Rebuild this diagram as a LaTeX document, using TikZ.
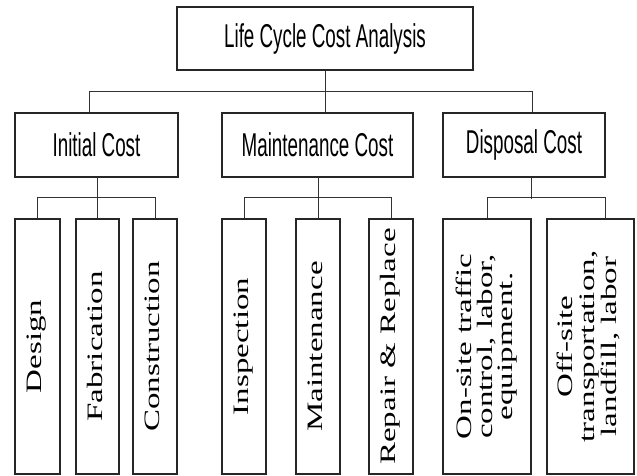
\documentclass[tikz,border=0pt]{standalone}
\usepackage{fontspec}
\setmainfont{Liberation Serif}
\setsansfont{Liberation Sans}
\usetikzlibrary{positioning}

% condensed sans heading text, stretched serif column text
\newcommand{\htext}[1]{\scalebox{0.57}[1]{\sffamily\fontsize{33}{36}\selectfont #1}}
\newcommand{\vtext}[2][19]{\rotatebox{90}{\scalebox{1.5}[1]{\fontsize{22}{#1}\selectfont\begin{tabular}{@{}c@{}}#2\end{tabular}}}}

\tikzset{
  box/.style={rectangle, draw=black!85, line width=1.2pt, inner sep=0pt},
  headbox/.style={box, minimum width=#1, minimum height=64pt},
  leafbox/.style={box, minimum width=#1, minimum height=255pt},
  link/.style={draw=black!80, line width=1pt}
}

\begin{document}
\begin{tikzpicture}[x=1pt, y=-1pt]
      \useasboundingbox[fill=white] (0,0) rectangle (637,475);

      % Nodes
      \node (lcca) at (325,38.5) [box, minimum width=296pt, minimum height=63pt] {\htext{Life Cycle Cost Analysis}};

      \node (initial) at (96.5,145) [headbox=163pt] {\htext{Initial Cost}};
      \node (maint) at (317.5,145) [headbox=191pt] {\htext{Maintenance Cost}};
      \node (disposal) at (524,145) [headbox=162pt] {\htext{Disposal Cost}};

      \node (design) at (37.5,346.5) [leafbox=45pt] {\vtext{Design}};
      \node (fabric) at (97.5,346.5) [leafbox=43pt] {\vtext{Fabrication}};
      \node (constr) at (155,346.5) [leafbox=44pt] {\vtext{Construction}};

      \node (inspect) at (244,346.5) [leafbox=44pt] {\vtext{Inspection}};
      \node (mainten) at (318,346.5) [leafbox=44pt] {\vtext{Maintenance}};
      \node (repair) at (391,346.5) [leafbox=44pt] {\vtext{Repair \& Replace}};

      \node (onsite) at (487,346.5) [leafbox=88pt] {\vtext[18]{On-site traffic\\control, labor,\\equipment.}};
      \node (offsite) at (590.5,346.5) [leafbox=87pt] {\vtext[22]{Off-site\\transportation,\\landfill, labor}};

      \coordinate (busL) at (89,91);
      \coordinate (busR) at (532,91);

      % Edges
      \draw[link] (lcca.south) -- (lcca.south |- maint.north);
      \draw[link] (busL) -- (busR);
      \draw[link] (busL) -- (busL |- initial.north);
      \draw[link] (busR) -- (busR |- disposal.north);

      \draw[link] (fabric.north |- initial.south) -- (fabric.north);
      \draw[link] (design.north) -- ++(0,-21) -| (constr.north);

      \draw[link] (mainten.north |- maint.south) -- (mainten.north);
      \draw[link] (inspect.north) -- ++(0,-21) -| (repair.north);

      \draw[link] ([xshift=7pt]disposal.south) -- ++(0,21);
      \draw[link] (onsite.north) -- ++(0,-21) -| ([xshift=14.5pt]offsite.north);
  \end{tikzpicture}
\end{document}
